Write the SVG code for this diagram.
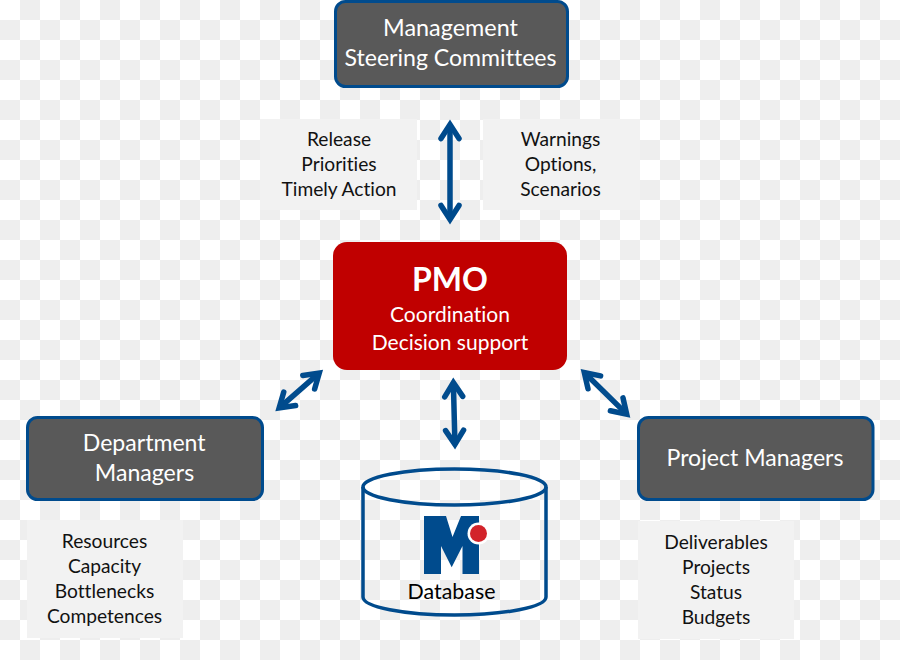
<svg xmlns="http://www.w3.org/2000/svg" width="900" height="660" viewBox="0 0 900 660">
<style>
text{font-family:"Lato","Carlito","Liberation Sans",sans-serif;text-anchor:middle;font-variant-ligatures:none}
.dark{fill:#595959;stroke:#004b8d;stroke-width:3}
.panel{fill:#f2f2f2}
.lt{fill:#fff;font-size:23.1px}
.sm{fill:#fff;font-size:21px}
.dt{fill:#111;font-size:19.2px}
.conn{fill:none;stroke:#004b8d;stroke-width:5.500;stroke-linecap:round;marker-start:url(#h);marker-end:url(#h)}
.blue{fill:#004b8d}
</style>
<defs>
<pattern id="chk" width="40" height="40" patternUnits="userSpaceOnUse"><rect width="40" height="40" fill="#fff"/><rect x="20" width="20" height="20" fill="#eee"/><rect y="20" width="20" height="20" fill="#eee"/></pattern>
<marker id="h" markerUnits="userSpaceOnUse" markerWidth="50" markerHeight="50" refX="25" refY="25" orient="auto-start-reverse" overflow="visible"><path d="M12.400 16 26.400 25 12.400 34" fill="none" stroke="#004b8d" stroke-width="5.500" stroke-linecap="round" stroke-linejoin="miter"/></marker>
</defs>
<rect id="background" width="900" height="660" fill="url(#chk)"/>
<g id="connectors">
<path class="conn" d="M450 126V218"/>
<path class="conn" d="M453.400 384 454.900 443"/>
<path class="conn" d="M318.200 373.900 280.200 407.100"/>
<path class="conn" d="M585.300 373.500 625.700 413.100"/>
</g>
<g id="management"><rect class="dark" x="335.500" y="1.500" width="232" height="85" rx="10"/><text class="lt" x="450.500" y="36" style="font-size:23.4px">Management</text><text class="lt" x="450.500" y="66">Steering Committees</text></g>
<g id="release"><rect class="panel" x="260" y="119" width="157" height="91"/><text class="dt" x="339" y="146">Release</text><text class="dt" x="339" y="171">Priorities</text><text class="dt" x="339" y="196">Timely Action</text></g>
<g id="warnings"><rect class="panel" x="483" y="119" width="157" height="91"/><text class="dt" x="560.500" y="146">Warnings</text><text class="dt" x="560.500" y="171">Options,</text><text class="dt" x="560.500" y="196">Scenarios</text></g>
<g id="pmo"><rect x="333" y="242" width="234" height="128" rx="14" fill="#c00000"/><text x="450" y="291" fill="#fff" font-size="32" font-weight="700">PMO</text><text class="sm" x="450" y="322">Coordination</text><text class="sm" x="450" y="350">Decision support</text></g>
<g id="department"><rect class="dark" x="27.500" y="417.500" width="235" height="82" rx="10"/><text class="lt" x="144.200" y="451">Department</text><text class="lt" x="144.500" y="481">Managers</text></g>
<g id="project"><rect class="dark" x="638.500" y="417.500" width="234.500" height="82" rx="10"/><text class="lt" x="755" y="466">Project Managers</text></g>
<g id="resources"><rect class="panel" x="27" y="520" width="156" height="118"/><text class="dt" x="104.500" y="548">Resources</text><text class="dt" x="104.500" y="573">Capacity</text><text class="dt" x="104.500" y="598">Bottlenecks</text><text class="dt" x="104.500" y="623">Competences</text></g>
<g id="deliverables"><rect class="panel" x="638" y="521" width="156" height="118"/><text class="dt" x="716" y="549">Deliverables</text><text class="dt" x="716" y="574">Projects</text><text class="dt" x="716" y="599">Status</text><text class="dt" x="716" y="624">Budgets</text></g>
<g id="database">
<path d="M363 487V597C363 607 404 615 454.500 615S546 607 546 597V487" fill="none" stroke="#004b8d" stroke-width="3.500"/>
<ellipse cx="454.500" cy="487" rx="91.500" ry="18" fill="none" stroke="#004b8d" stroke-width="3.500"/>
<path class="blue" d="M424 516H446L452.500 537 461 516H479V574H462.500V546L451.700 567.300 441 546V574H424Z"/>
<circle cx="478.500" cy="533.500" r="11" fill="#fff"/><circle cx="478.500" cy="533.500" r="8.500" fill="#d2232a"/>
<text x="451.500" y="599" fill="#000" font-size="21.400">Database</text>
</g>
</svg>
